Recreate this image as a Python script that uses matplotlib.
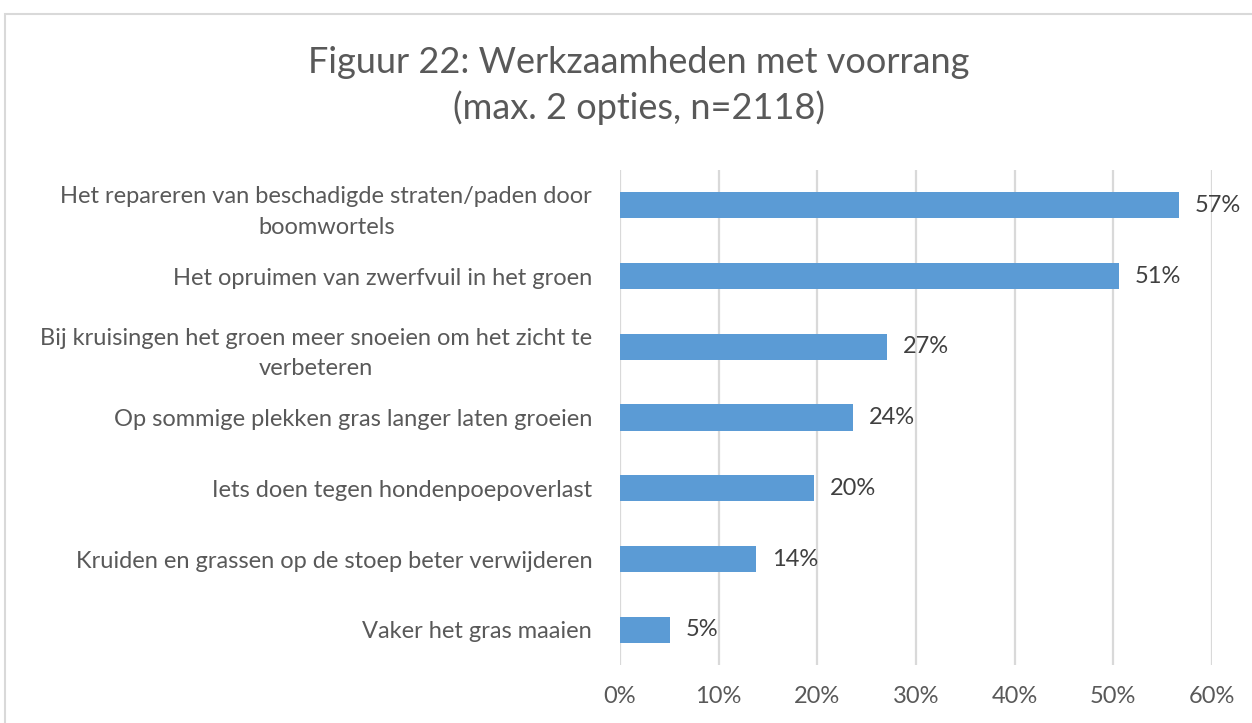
import matplotlib.pyplot as plt
from matplotlib.patches import Rectangle

# data
labels = [
    'Het repareren van beschadigde straten/paden door\nboomwortels',
    'Het opruimen van zwerfvuil in het groen',
    'Bij kruisingen het groen meer snoeien om het zicht te\nverbeteren',
    'Op sommige plekken gras langer laten groeien',
    'Iets doen tegen hondenpoepoverlast',
    'Kruiden en grassen op de stoep beter verwijderen',
    'Vaker het gras maaien',
]
values = [56.7, 50.6, 27.1, 23.6, 19.7, 13.8, 5.1]
value_labels = ['57%', '51%', '27%', '24%', '20%', '14%', '5%']
x_ticks = [0, 10, 20, 30, 40, 50, 60]

plt.rcParams['font.family'] = ['Lato', 'DejaVu Sans']
text_color = '#595959'
fs = 17

fig = plt.figure(figsize=(12.52, 7.23), dpi=100)
ax = fig.add_axes([0.4952, 0.08, 0.968 - 0.4952, 0.765 - 0.08])

y = list(range(len(labels)))[::-1]
ax.barh(y, values, height=0.37, color='#5B9BD5', zorder=3)

for yi, v, lab in zip(y, values, value_labels):
    ax.text(v + 1.6, yi, lab, va='center', ha='left', fontsize=fs, color='#404040')

ax.set_xlim(0, 60)
ax.set_ylim(-0.5, len(labels) - 0.5)
ax.set_xticks(x_ticks)
ax.set_xticklabels([f'{t}%' for t in x_ticks], fontsize=fs, color=text_color)
ax.set_yticks(y)
ax.set_yticklabels(labels, fontsize=fs, color=text_color, multialignment='center',
                   linespacing=1.55)
ax.tick_params(axis='both', length=0)
ax.tick_params(axis='y', pad=20)
ax.tick_params(axis='x', pad=15)
ax.grid(axis='x', color='#d9d9d9', linewidth=1.6, zorder=0)
for s in ax.spines.values():
    s.set_visible(False)

fig.text(0.51, 0.913, 'Figuur 22: Werkzaamheden met voorrang', ha='center', va='center',
         fontsize=26, color=text_color)
fig.text(0.51, 0.851, '(max. 2 opties, n=2118)', ha='center', va='center',
         fontsize=26, color=text_color)

# chart area border
fig.patches.append(Rectangle((0.004, -0.1), 1.2, 0.9806 + 0.1, transform=fig.transFigure,
                             fill=False, edgecolor='#d9d9d9', linewidth=1.5))

fig.savefig('out.png', dpi=100)
